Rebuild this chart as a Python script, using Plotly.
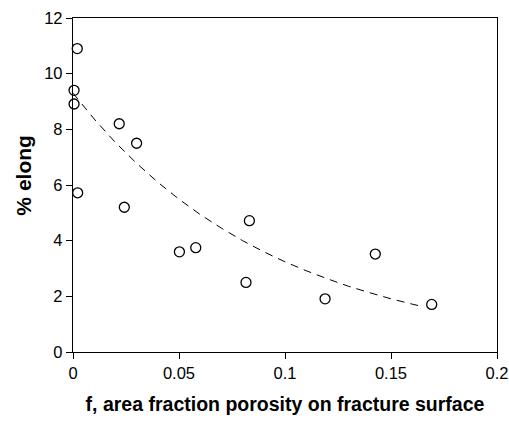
import plotly.graph_objects as go

porosity = [0.002, 0.0005, 0.0005, 0.0218, 0.030, 0.0022, 0.0242,
            0.0502, 0.0579, 0.0816, 0.0832, 0.1189, 0.1426, 0.1692]
elong = [10.9, 9.4, 8.91, 8.2, 7.5, 5.72, 5.2,
         3.6, 3.75, 2.5, 4.72, 1.91, 3.52, 1.71]

# Dashed trend curve
fit_x = [0.0, 0.01, 0.02, 0.03, 0.04, 0.05, 0.06, 0.07, 0.08, 0.09,
         0.10, 0.11, 0.12, 0.13, 0.14, 0.15, 0.16, 0.165]
fit_y = [9.3, 8.37, 7.53, 6.78, 6.10, 5.49, 4.94, 4.45, 4.00, 3.60,
         3.24, 2.92, 2.63, 2.36, 2.13, 1.91, 1.72, 1.63]

x_ticks = [0, 0.05, 0.1, 0.15, 0.2]
x_tick_labels = ["0", "0.05", "0.1", "0.15", "0.2"]
y_ticks = [0, 2, 4, 6, 8, 10, 12]

FONT = "Liberation Sans, Arial, sans-serif"

fig = go.Figure()
fig.add_trace(go.Scatter(
    x=fit_x, y=fit_y, mode="lines",
    line=dict(color="black", width=1, dash="8px,6px"),
    showlegend=False, hoverinfo="skip",
))
fig.add_trace(go.Scatter(
    x=porosity, y=elong, mode="markers",
    marker=dict(symbol="circle-open", size=10, color="black",
                line=dict(color="black", width=1.3)),
    cliponaxis=False, showlegend=False,
))

fig.update_layout(
    width=509, height=421,
    margin=dict(l=73, r=12, t=18, b=69),
    paper_bgcolor="white", plot_bgcolor="white",
    font=dict(family=FONT, color="black", size=16),
    xaxis=dict(
        range=[0, 0.2], tickvals=x_ticks, ticktext=x_tick_labels,
        showline=True, linecolor="black", linewidth=1.3, mirror=True,
        ticks="outside", ticklen=6, tickcolor="black", tickwidth=1,
        showgrid=False, zeroline=False, automargin=False,
        tickfont=dict(size=16.5),
        title=dict(text="<b>f, area fraction porosity on fracture surface</b>",
                   font=dict(size=19.5), standoff=16),
    ),
    yaxis=dict(
        range=[0, 12], tickvals=y_ticks,
        showline=True, linecolor="black", linewidth=1.3, mirror=True,
        ticks="outside", ticklen=6, tickcolor="black", tickwidth=1,
        showgrid=False, zeroline=False, automargin=False,
        tickfont=dict(size=16.5),
    ),
    annotations=[dict(
        text="<b>% elong</b>", textangle=-90,
        xref="paper", yref="paper", x=-0.1156, y=0.531,
        xanchor="center", yanchor="middle", showarrow=False,
        font=dict(size=21),
    )],
)

fig.write_html(
    "out.html",
    config={"displayModeBar": False},
    post_script="document.body.style.margin='0';"
                "document.body.style.overflow='hidden';",
)
